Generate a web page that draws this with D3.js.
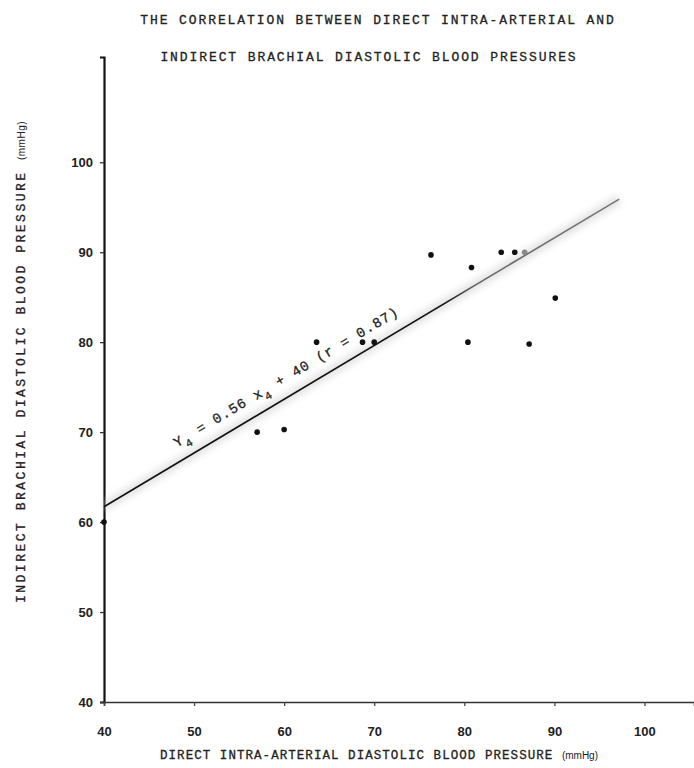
<!DOCTYPE html>
<html>
<head>
<meta charset="utf-8">
<script src="https://cdn.jsdelivr.net/npm/d3@7"></script>
<style>
  html, body { margin: 0; padding: 0; background: #fff; }
  svg { display: block; }
  .mono { font-family: "Liberation Mono", "DejaVu Sans Mono", monospace; fill: #222; stroke: #222; stroke-width: 0.3px; }
  .tick text { font-family: "Liberation Sans", Arial, sans-serif; font-weight: bold; font-size: 13px; fill: #222; }
</style>
</head>
<body>
<div id="chart"></div>
<script>
// DATA
const titleLines = [
  "THE CORRELATION BETWEEN DIRECT INTRA-ARTERIAL AND",
  "INDIRECT BRACHIAL DIASTOLIC BLOOD PRESSURES"
];
const xLabel = "DIRECT INTRA-ARTERIAL DIASTOLIC BLOOD PRESSURE";
const yLabel = "INDIRECT BRACHIAL DIASTOLIC BLOOD PRESSURE";
const unitLabel = "(mmHg)";

const tickValues = [40, 50, 60, 70, 80, 90, 100];

// direct (x) vs indirect (y) readings, mmHg
const directBP   = [40, 57, 60, 63.6, 68.7, 70, 76.3, 80.8, 84.1, 85.6, 86.7, 90.1, 80.4, 87.2];
const indirectBP = [60, 70, 70.3, 80, 80, 80, 89.7, 88.3, 90, 90, 90, 84.9, 80, 79.8];

// regression line ends as drawn
const fitX = [40, 97.2];
const fitY = [61.7, 95.9];

// SETUP
const width  = 694;
const height = 768;

const x = d3.scaleLinear().domain([40, 105.5]).range([104, 694]);
const y = d3.scaleLinear().domain([40, 111.7]).range([702, 57]);

const svg = d3.select('#chart').append('svg')
    .attr('width', width)
    .attr('height', height);

const defs = svg.append('defs');
defs.append('filter')
    .attr('id', 'smudge')
    .append('feGaussianBlur')
    .attr('stdDeviation', 3);

// title
const titleX = [378, 369];
svg.selectAll('text.title')
    .data(titleLines)
    .enter()
    .append('text')
        .attr('class', 'title mono')
        .attr('x', (d, i) => titleX[i])
        .attr('y', (d, i) => 24 + i * 37)
        .attr('text-anchor', 'middle')
        .style('font-size', '13px')
        .style('letter-spacing', '1.9px')
        .text(d => d);

// axes
const yAxis = d3.axisLeft(y).tickValues(tickValues).tickSize(4).tickPadding(7);
const xAxis = d3.axisBottom(x).tickValues(tickValues).tickSize(4).tickPadding(21);

const gy = svg.append('g')
    .attr('transform', `translate(${x(40)},0)`)
    .call(yAxis);
gy.select('.domain').attr('stroke', '#111').attr('stroke-width', 2.2);
gy.selectAll('.tick line').attr('stroke', '#333').attr('stroke-width', 1.3);
gy.selectAll('.tick text').attr('dy', '0.35em');

const gx = svg.append('g')
    .attr('transform', `translate(0,${y(40)})`)
    .call(xAxis);
gx.select('.domain').attr('stroke', '#333').attr('stroke-width', 1.6);
gx.selectAll('.tick line').attr('stroke', '#444').attr('stroke-width', 1.3);

// axis titles
const xt = svg.append('text')
    .attr('class', 'mono')
    .attr('x', 379)
    .attr('y', 759)
    .attr('text-anchor', 'middle')
    .style('font-size', '12.5px')
    .style('letter-spacing', '1.05px');
xt.append('tspan').text(xLabel + ' ');
xt.append('tspan').style('font-family', 'Liberation Sans, Arial, sans-serif').style('font-size', '10px').style('letter-spacing', '0').style('stroke-width', 0).text(unitLabel);

const yt = svg.append('text')
    .attr('class', 'mono')
    .attr('transform', `translate(25,${362}) rotate(-90)`)
    .attr('text-anchor', 'middle')
    .style('font-size', '13px')
    .style('letter-spacing', '2.5px');
yt.append('tspan').text(yLabel + ' ');
yt.append('tspan').style('font-family', 'Liberation Sans, Arial, sans-serif').style('font-size', '10px').style('letter-spacing', '0.5px').style('stroke-width', 0).text(unitLabel);

// regression line, with the faded upper part
const fitLine = d3.line().x(d => x(d[0])).y(d => y(d[1]));
const fitPts = fitX.map((v, i) => [v, fitY[i]]);

svg.append('path')
    .datum(fitPts)
    .attr('d', fitLine)
    .attr('stroke', '#ccc')
    .attr('stroke-width', 10)
    .attr('filter', 'url(#smudge)')
    .attr('fill', 'none')
    .attr('opacity', 0.5);

const grad = defs.append('linearGradient')
    .attr('id', 'fade')
    .attr('gradientUnits', 'userSpaceOnUse')
    .attr('x1', x(fitX[0])).attr('x2', x(fitX[1]))
    .attr('y1', 0).attr('y2', 0);
grad.append('stop').attr('offset', '0.66').attr('stop-color', '#111');
grad.append('stop').attr('offset', '0.72').attr('stop-color', '#666');
grad.append('stop').attr('offset', '1').attr('stop-color', '#777');

svg.append('path')
    .datum(fitPts)
    .attr('d', fitLine)
    .attr('stroke', 'url(#fade)')
    .attr('stroke-width', 1.6)
    .attr('fill', 'none');

// equation label
const angle = Math.atan2(y(fitY[1]) - y(fitY[0]), x(fitX[1]) - x(fitX[0])) * 180 / Math.PI;
const eq = svg.append('text')
    .attr('class', 'mono')
    .attr('transform', `translate(${x(48.1)},${y(68.3)}) rotate(${angle})`)
    .style('font-size', '14px')
    .style('letter-spacing', '1.0px');
eq.append('tspan').text('Y');
eq.append('tspan').attr('dy', 6).style('font-size', '11px').text('4');
eq.append('tspan').attr('dy', -6).text(' = 0.56 x');
eq.append('tspan').attr('dy', 6).style('font-size', '11px').text('4');
eq.append('tspan').attr('dy', -6).text(' + 40 (r = 0.87)');

// points
svg.selectAll('circle.pt')
    .data(directBP)
    .enter()
    .append('circle')
        .attr('class', 'pt')
        .attr('cx', d => x(d))
        .attr('cy', (d, i) => y(indirectBP[i]))
        .attr('r', 2.8)
        .attr('fill', (d, i) => i === 10 ? '#888' : '#111');
</script>
</body>
</html>
